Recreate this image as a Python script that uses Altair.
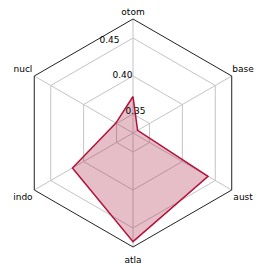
import math
import altair as alt
import pandas as pd

categories = ["otom", "base", "aust", "atla", "indo", "nucl"]
values = [0.373, 0.332, 0.439, 0.468, 0.417, 0.351]
ticks = [0.35, 0.40, 0.45]
r_min = 0.325
r_max = 0.475

n = len(categories)
poly = pd.DataFrame({
    "cat": categories + [categories[0]],
    "value": values + [values[0]],
    "idx": list(range(n)) + [n],
})
rings = pd.DataFrame([
    {"ring": k, "idx": i, "value": t, "outer": k == len(ticks)}
    for k, t in enumerate(ticks + [r_max]) for i in range(n + 1)
])
spokes = pd.DataFrame({"cat": categories, "idx": list(range(n)), "value": [r_max] * n})
tick_df = pd.DataFrame({"value": ticks, "label": [f"{t:.2f}" for t in ticks]})

EXT = 125 / 114
xs = alt.Scale(domain=[-EXT, EXT], nice=False, zero=False)
ys = alt.Scale(domain=[-EXT, EXT], nice=False, zero=False)
X = alt.X("x:Q", scale=xs, axis=None)
Y = alt.Y("y:Q", scale=ys, axis=None)

R_EXPR = "(datum.value - %r) / %r" % (r_min, r_max - r_min)


def polar(ch, r_expr=R_EXPR, ang=None):
    ang = ang or "datum.idx * PI / 3"
    return ch.transform_calculate(
        r=r_expr, a=ang
    ).transform_calculate(
        x="datum.r * sin(datum.a)", y="datum.r * cos(datum.a)"
    )


grid = polar(alt.Chart(rings).transform_filter("!datum.outer")).mark_line(
    color="#c4c4c4", strokeWidth=1
).encode(x=X, y=Y, detail="ring:N", order="idx:Q")

outer = polar(alt.Chart(rings).transform_filter("datum.outer")).mark_line(
    color="#222222", strokeWidth=1
).encode(x=X, y=Y, detail="ring:N", order="idx:Q")

spoke = polar(alt.Chart(spokes)).transform_calculate(
    zero="0"
).mark_rule(color="#c4c4c4", strokeWidth=1).encode(
    x=alt.X("zero:Q", scale=xs, axis=None),
    y=alt.Y("zero:Q", scale=ys, axis=None),
    x2="x:Q", y2="y:Q",
)

area = polar(alt.Chart(poly)).mark_line(
    fill="#a0173a", fillOpacity=0.28, stroke="#b3123b", strokeWidth=1.5
).encode(x=X, y=Y, order="idx:Q")

cat_labels = polar(
    alt.Chart(spokes), r_expr="datum.idx == 0 ? 1.06 : 1.115"
).mark_text(font="DejaVu Sans", fontSize=9, color="#000000", baseline="middle").encode(
    x=X, y=Y, text="cat:N"
)

tick_labels = polar(
    alt.Chart(tick_df), ang="-20 * PI / 180"
).mark_text(font="DejaVu Sans", fontSize=9, color="#000000", align="right",
            baseline="middle", dx=19, dy=-4).encode(x=X, y=Y, text="label:N")

chart = alt.layer(grid, spoke, outer, area, tick_labels, cat_labels).properties(
    width=250, height=250,
    autosize=alt.AutoSizeParams(type="none"),
    padding={"left": 0, "top": 0, "right": 0, "bottom": 8},
).configure_view(stroke=None)

chart.save("out.html", embed_options={"renderer": "svg", "actions": False})
